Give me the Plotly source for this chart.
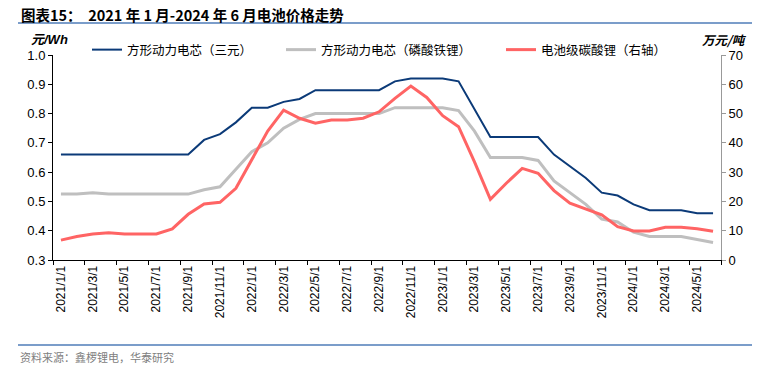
import plotly.graph_objects as go

# ---- data ----
months = [f"{y}/{m}/1" for y in (2021, 2022, 2023, 2024) for m in range(1, 13)][:42]

ncm_cell = [0.66, 0.66, 0.66, 0.66, 0.66, 0.66, 0.66, 0.66, 0.66, 0.71,
            0.73, 0.77, 0.82, 0.82, 0.84, 0.85, 0.88, 0.88, 0.88, 0.88,
            0.88, 0.91, 0.92, 0.92, 0.92, 0.91, 0.815, 0.72, 0.72, 0.72,
            0.72, 0.66, 0.62, 0.58, 0.53, 0.52, 0.49, 0.47, 0.47, 0.47,
            0.46, 0.46]

lfp_cell = [0.525, 0.525, 0.53, 0.525, 0.525, 0.525, 0.525, 0.525, 0.525, 0.54,
            0.55, 0.61, 0.67, 0.70, 0.75, 0.78, 0.80, 0.80, 0.80, 0.80,
            0.80, 0.82, 0.82, 0.82, 0.82, 0.81, 0.74, 0.65, 0.65, 0.65,
            0.64, 0.57, 0.53, 0.49, 0.44, 0.43, 0.395, 0.38, 0.38, 0.38,
            0.37, 0.36]

li2co3 = [6.8, 8.0, 8.9, 9.3, 8.9, 8.9, 8.9, 10.6, 15.6, 19.1,
          19.7, 24.5, 34.5, 44.0, 51.2, 48.4, 46.7, 47.8, 47.8, 48.4,
          50.6, 55.2, 59.4, 55.5, 49.3, 45.5, 33.5, 20.7, 26.2, 31.3,
          29.6, 23.7, 19.4, 17.4, 15.4, 11.4, 9.9, 9.9, 11.2, 11.2,
          10.7, 9.8]

names = ["方形动力电芯（三元）", "方形动力电芯（磷酸铁锂）", "电池级碳酸锂（右轴）"]
left_ticks = [0.3, 0.4, 0.5, 0.6, 0.7, 0.8, 0.9, 1.0]
right_ticks = [0, 10, 20, 30, 40, 50, 60, 70]

idx = list(range(len(months)))

W, H = 768, 369
L, R, T, B = 53, 721, 55, 260
NUM = "Liberation Sans, Arial, Noto Sans CJK SC"
CJK = "Noto Sans CJK SC, Liberation Sans"

fig = go.Figure()
fig.add_trace(go.Scatter(x=idx, y=ncm_cell, name=names[0], mode="lines",
                         line=dict(color="#0B3A78", width=2), legend="legend"))
fig.add_trace(go.Scatter(x=idx, y=lfp_cell, name=names[1], mode="lines",
                         line=dict(color="#BFBFBF", width=3), legend="legend2"))
fig.add_trace(go.Scatter(x=idx, y=li2co3, name=names[2], mode="lines", yaxis="y2",
                         line=dict(color="#FF6464", width=3), legend="legend3"))

def px_x(p):
    return (p - L) / (R - L)

def px_y(p):
    return (B - p) / (B - T)

leg_common = dict(orientation="h", xref="paper", yref="paper",
                  yanchor="middle", xanchor="left", bgcolor="rgba(0,0,0,0)",
                  font=dict(family=CJK, size=12.5, color="#000000"))

fig.update_layout(
    width=W, height=H,
    margin=dict(l=L, r=W - R, t=T, b=H - B, pad=0, autoexpand=False),
    paper_bgcolor="white", plot_bgcolor="white",
    showlegend=True,
    legend=dict(x=px_x(93 - 6), y=px_y(50), **leg_common),
    legend2=dict(x=px_x(287 - 6), y=px_y(50), **leg_common),
    legend3=dict(x=px_x(507 - 6), y=px_y(50), **leg_common),
    xaxis=dict(
        automargin=False,
        range=[-0.5, len(months) - 0.5],
        tickmode="array", tickvals=idx[::2], ticktext=months[::2],
        tickangle=-90, ticks="", showgrid=False, zeroline=False,
        showline=True, linecolor="#000000", linewidth=1,
        tickfont=dict(family=NUM, size=12, color="#000000"),
        minor=dict(tickmode="array",
                   tickvals=[i - 0.5 for i in range(0, len(months) + 1, 2)],
                   ticks="outside", ticklen=4, tickcolor="#000000", showgrid=False),
    ),
    yaxis=dict(
        automargin=False,
        range=[0.3, 1.0], tickmode="array", tickvals=left_ticks,
        ticktext=[f"{v:.1f}" for v in left_ticks],
        ticks="outside", ticklen=4, tickcolor="#000000",
        showline=True, linecolor="#000000", linewidth=1,
        showgrid=False, zeroline=False,
        tickfont=dict(family=NUM, size=13, color="#000000"),
    ),
    yaxis2=dict(
        automargin=False,
        range=[0, 70], tickmode="array", tickvals=right_ticks,
        overlaying="y", side="right",
        ticks="outside", ticklen=4, tickcolor="#999999",
        showline=True, linecolor="#999999", linewidth=1,
        showgrid=False, zeroline=False,
        tickfont=dict(family=NUM, size=13, color="#000000"),
    ),
    shapes=[
        dict(type="line", xref="paper", yref="paper", x0=px_x(18), x1=px_x(752),
             y0=px_y(23), y1=px_y(23), line=dict(color="#4F7DB8", width=1.5)),
        dict(type="line", xref="paper", yref="paper", x0=px_x(18), x1=px_x(752),
             y0=px_y(345), y1=px_y(345), line=dict(color="#4F7DB8", width=1.5)),
    ],
    annotations=[
        dict(text="<b>图表15：  2021 年 1 月-2024 年 6 月电池价格走势</b>",
             xref="paper", yref="paper", x=px_x(19), y=px_y(14),
             xanchor="left", yanchor="middle", showarrow=False,
             font=dict(family=CJK, size=14.5, color="#000000")),
        dict(text="<b><i>元/Wh</i></b>", xref="paper", yref="paper",
             x=px_x(49), y=px_y(40), xanchor="center", yanchor="middle",
             showarrow=False, font=dict(family=NUM, size=13, color="#000000")),
        dict(text="<b><i>万元/吨</i></b>", xref="paper", yref="paper",
             x=px_x(724), y=px_y(40), xanchor="center", yanchor="middle",
             showarrow=False, font=dict(family=CJK, size=12.5, color="#000000")),
        dict(text="资料来源：鑫椤锂电，华泰研究", xref="paper", yref="paper",
             x=px_x(18), y=px_y(357), xanchor="left", yanchor="middle",
             showarrow=False, font=dict(family=CJK, size=11, color="#808080")),
    ],
)

# remove the browser's default 8px body margin so the figure fills the window
fig.write_html("out.html",
               config={"displayModeBar": False},
               post_script="document.body.style.margin='0';document.body.style.overflow='hidden';")
